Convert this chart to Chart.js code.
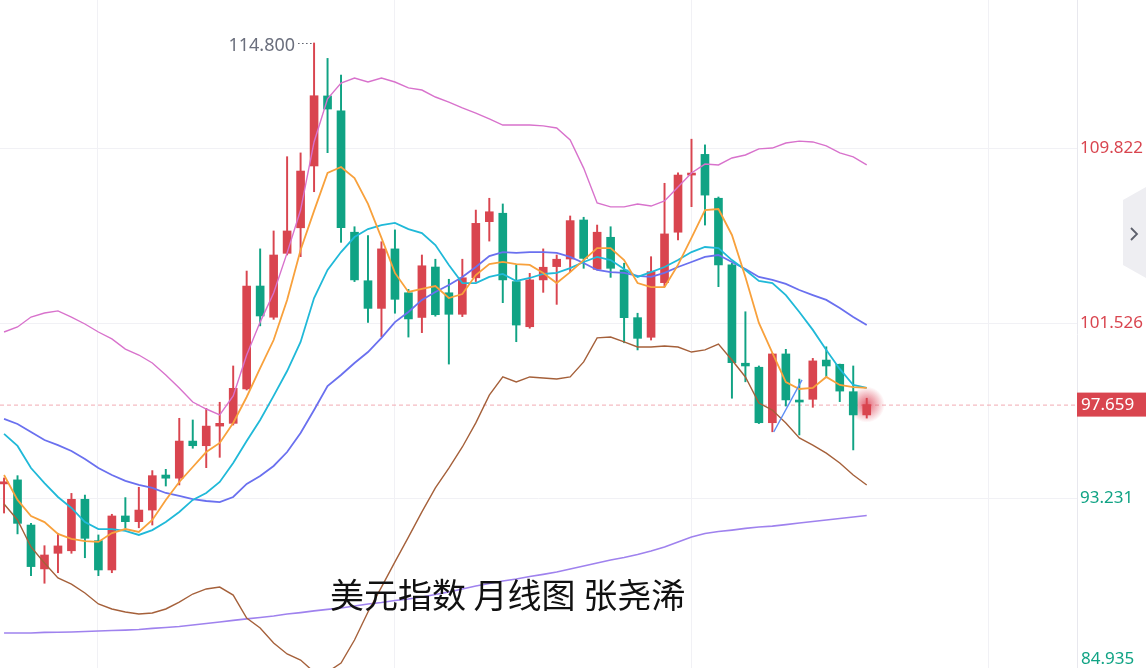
<!DOCTYPE html>
<html>
<head>
<meta charset="utf-8">
<script src="https://cdn.jsdelivr.net/npm/chart.js@4.4.1/dist/chart.umd.min.js"></script>
<style>
html, body { margin: 0; padding: 0; background: #fff; }
#wrap { position: relative; width: 1146px; height: 668px; overflow: hidden; }
#title { position: absolute; left: 330px; top: 577px; font-size: 34px; line-height: 34px;
  font-family: "Noto Sans CJK SC", sans-serif; color: #111; white-space: nowrap; }
</style>
</head>
<body>
<div id="wrap">
  <canvas id="myChart"></canvas>
  <div id="title">美元指数 月线图 张尧浠</div>
</div>
<script>
// monthly candles, index 0..64
const opens = [93.90, 94.09, 91.95, 89.87, 90.61, 90.73, 93.17, 91.21, 89.82, 92.38,
  92.11, 92.66, 94.32, 94.17, 95.93, 95.71, 96.64, 96.77, 98.40, 103.28,
  101.80, 104.83, 106.04, 108.97, 112.29, 111.58, 105.83, 103.53, 102.22, 105.04,
  102.96, 101.79, 104.18, 102.96, 101.94, 103.67, 106.33, 106.73, 103.49, 101.35,
  103.57, 104.20, 104.56, 106.41, 104.07, 105.59, 104.04, 101.78, 100.85, 103.44,
  105.83, 108.54, 109.52, 107.44, 104.28, 99.62, 99.43, 96.80, 100.06, 97.84,
  97.91, 99.77, 99.57, 98.27, 97.17];
const closes = [94.00, 92.03, 89.98, 90.53, 90.96, 93.17, 91.32, 89.82, 92.38, 92.11,
  92.66, 94.29, 94.17, 95.93, 95.71, 96.64, 96.77, 98.43, 103.28, 101.86,
  104.75, 105.89, 108.73, 112.30, 111.67, 106.04, 103.57, 102.22, 105.04, 102.65,
  101.72, 104.24, 101.92, 101.94, 103.67, 106.25, 106.80, 103.57, 101.43, 103.57,
  104.17, 104.55, 106.38, 104.59, 105.83, 104.12, 101.78, 100.80, 103.96, 105.75,
  108.54, 108.62, 107.59, 104.28, 99.65, 99.49, 96.80, 100.06, 97.88, 97.78,
  99.73, 99.49, 98.30, 97.17, 97.659];
const highs = [94.18, 94.29, 92.03, 90.97, 91.56, 93.45, 93.37, 91.48, 92.46, 93.25,
  93.74, 94.53, 94.59, 97.01, 96.93, 97.48, 97.77, 99.49, 103.99, 105.04,
  105.89, 109.41, 109.59, 114.80, 114.07, 113.28, 106.09, 105.67, 105.38, 105.94,
  103.12, 104.75, 104.55, 103.60, 104.55, 106.88, 107.44, 107.17, 104.28, 103.88,
  105.04, 104.75, 106.60, 106.54, 106.17, 106.09, 104.36, 101.99, 104.67, 108.15,
  108.65, 110.24, 109.97, 107.50, 104.36, 102.06, 99.49, 100.09, 100.28, 98.87,
  99.85, 100.40, 99.58, 99.49, 97.96];
const lows = [92.52, 91.53, 89.55, 89.19, 89.69, 90.61, 90.40, 89.55, 89.69, 91.80,
  91.82, 91.95, 93.80, 93.85, 95.59, 94.67, 95.16, 96.69, 98.35, 101.39,
  101.70, 104.75, 104.67, 107.75, 109.60, 105.35, 103.49, 101.56, 100.88, 101.99,
  100.86, 101.07, 101.85, 99.58, 101.83, 103.49, 105.41, 102.49, 100.64, 101.28,
  102.98, 102.41, 103.96, 104.12, 104.04, 103.69, 100.59, 100.25, 100.72, 103.25,
  105.46, 107.04, 106.17, 103.25, 97.96, 98.74, 96.76, 96.37, 97.59, 96.22,
  97.53, 98.98, 97.80, 95.51, 97.02];

const ma5 = [94.32, 93.14, 92.38, 92.09, 91.53, 91.29, 91.19, 91.15, 91.57, 91.76,
  91.62, 92.19, 93.14, 93.99, 94.70, 95.41, 95.84, 96.79, 98.02, 99.39,
  100.72, 102.62, 104.99, 106.84, 108.64, 108.92, 108.40, 107.17, 105.56, 103.90,
  103.00, 103.14, 103.28, 102.71, 102.90, 103.80, 104.32, 104.42, 104.32, 104.28,
  103.90, 103.42, 103.94, 104.51, 105.08, 105.08, 104.51, 103.42, 103.23, 103.23,
  104.28, 105.56, 106.88, 106.93, 105.70, 103.71, 101.53, 100.11, 98.73, 98.40,
  98.45, 98.97, 98.59, 98.49, 98.45];
const ma10 = [96.27, 95.70, 94.65, 93.94, 93.28, 92.76, 92.09, 91.76, 91.76, 91.67,
  91.48, 91.71, 92.09, 92.57, 93.14, 93.47, 93.99, 94.89, 95.93, 96.93,
  98.07, 99.25, 100.63, 102.71, 104.04, 104.89, 105.60, 105.98, 106.17, 106.27,
  105.98, 105.79, 105.22, 104.28, 103.42, 103.42, 103.71, 103.85, 103.52, 103.66,
  103.85, 103.90, 104.13, 104.42, 104.66, 104.51, 104.09, 103.71, 103.94, 104.18,
  104.51, 104.89, 105.13, 105.08, 104.51, 104.04, 103.52, 103.42, 102.85, 102.05,
  101.20, 100.25, 99.35, 98.59, 98.45];
const ma20 = [96.98, 96.74, 96.36, 95.98, 95.74, 95.46, 95.08, 94.65, 94.32, 94.04,
  93.85, 93.71, 93.47, 93.33, 93.18, 93.09, 93.04, 93.28, 93.90, 94.27,
  94.75, 95.41, 96.31, 97.40, 98.54, 99.06, 99.63, 100.15, 100.82, 101.57,
  102.05, 102.62, 103.00, 103.33, 103.71, 104.18, 104.70, 104.89, 104.85, 104.89,
  104.89, 104.85, 104.66, 104.37, 104.04, 103.94, 103.90, 103.76, 103.71, 103.90,
  104.18, 104.42, 104.66, 104.75, 104.42, 104.09, 103.71, 103.57, 103.38, 103.09,
  102.85, 102.62, 102.24, 101.81, 101.43];
const bollUpper = [101.10, 101.34, 101.81, 102.00, 102.10, 101.81, 101.48, 101.10, 100.77, 100.29,
  100.01, 99.63, 99.06, 98.45, 97.78, 97.45, 97.17, 98.07, 100.01, 101.57,
  102.95, 104.85, 106.88, 110.11, 112.15, 112.90, 113.14, 112.95, 113.14, 112.95,
  112.67, 112.57, 112.24, 112.00, 111.72, 111.48, 111.20, 110.91, 110.91, 110.91,
  110.87, 110.77, 110.20, 108.87, 107.22, 107.03, 107.03, 107.17, 107.07, 107.31,
  107.97, 108.64, 109.06, 109.02, 109.35, 109.49, 109.78, 109.82, 110.06, 110.15,
  110.11, 109.92, 109.59, 109.40, 109.02];
const bollLower = [92.95, 92.19, 90.91, 90.15, 89.44, 89.15, 88.73, 88.21, 87.97, 87.83,
  87.73, 87.78, 87.97, 88.30, 88.68, 88.92, 89.01, 88.63, 87.54, 87.07,
  86.36, 85.84, 85.55, 84.98, 84.98, 85.41, 86.50, 87.83, 89.01, 90.20,
  91.38, 92.57, 93.71, 94.65, 95.65, 96.79, 98.11, 98.97, 98.73, 98.97,
  98.92, 98.87, 98.97, 99.68, 100.82, 100.86, 100.63, 100.39, 100.39, 100.44,
  100.39, 100.15, 100.25, 100.53, 99.77, 98.97, 97.73, 97.40, 96.79, 96.08,
  95.74, 95.36, 94.89, 94.32, 93.85];
const ma60 = [86.83, 86.83, 86.83, 86.86, 86.87, 86.88, 86.90, 86.93, 86.95, 86.97,
  87.00, 87.05, 87.09, 87.14, 87.21, 87.28, 87.35, 87.43, 87.50, 87.57,
  87.64, 87.73, 87.80, 87.88, 87.95, 88.02, 88.11, 88.21, 88.28, 88.37,
  88.44, 88.54, 88.66, 88.78, 88.92, 89.06, 89.18, 89.30, 89.39, 89.51,
  89.61, 89.72, 89.87, 90.01, 90.15, 90.29, 90.41, 90.55, 90.72, 90.91,
  91.15, 91.38, 91.55, 91.64, 91.71, 91.79, 91.86, 91.90, 91.97, 92.05,
  92.12, 92.19, 92.26, 92.33, 92.40];
// short hand-drawn trend segment [index, value]
const trendLine = [[57.1, 96.36], [59.2, 98.83]];

const yTickValues = [109.822, 101.526, 93.231];
const bottomTick = 84.935;
const xGridIdx = [6.9, 29, 51, 73];
const lastPrice = 97.659;
const highMark = { idx: 23, value: 114.8, label: "114.800" };

const RED = "#d9454f";
const GREEN = "#10a384";

const idx = opens.map((o, i) => i);
const toXY = arr => arr.map((v, i) => ({ x: i, y: v }));
const candleColors = opens.map((o, i) => closes[i] >= o ? RED : GREEN);

function lineSet(label, arr, color, width) {
  return {
    type: "line", label, data: toXY(arr), borderColor: color, borderWidth: width,
    pointRadius: 0, tension: 0, fill: false, order: 1
  };
}

const extras = {
  id: "extras",
  beforeDatasetsDraw(chart) {
    const { ctx, chartArea: a, scales: { x, y } } = chart;
    const py = y.getPixelForValue(lastPrice);
    ctx.save();
    ctx.strokeStyle = "#f2aab2";
    ctx.lineWidth = 1;
    ctx.setLineDash([4, 3]);
    ctx.beginPath();
    ctx.moveTo(a.left, py + 0.5);
    ctx.lineTo(a.right, py + 0.5);
    ctx.stroke();
    // glow on the last candle
    const gx = x.getPixelForValue(idx.length - 1);
    const g = ctx.createRadialGradient(gx, py, 0, gx, py, 18);
    g.addColorStop(0, "rgba(220,60,80,0.8)");
    g.addColorStop(0.5, "rgba(220,60,80,0.4)");
    g.addColorStop(1, "rgba(220,60,80,0)");
    ctx.fillStyle = g;
    ctx.beginPath();
    ctx.arc(gx, py, 18, 0, Math.PI * 2);
    ctx.fill();
    ctx.restore();
  },
  afterDraw(chart) {
    const { ctx, chartArea: a, scales: { x, y } } = chart;
    ctx.save();
    // high marker
    const hx = x.getPixelForValue(highMark.idx);
    const hy = y.getPixelForValue(highMark.value);
    ctx.strokeStyle = "#555a66";
    ctx.lineWidth = 1;
    ctx.setLineDash([1.5, 2.5]);
    ctx.beginPath();
    ctx.moveTo(hx - 16, hy + 0.5);
    ctx.lineTo(hx - 1, hy + 0.5);
    ctx.stroke();
    ctx.setLineDash([]);
    ctx.fillStyle = "#6b6f7d";
    ctx.font = "18px 'Noto Sans', sans-serif";
    ctx.textAlign = "right";
    ctx.textBaseline = "middle";
    ctx.fillText(highMark.label, hx - 19, hy + 3);

    // last price tag
    const py = y.getPixelForValue(lastPrice);
    ctx.fillStyle = RED;
    ctx.fillRect(a.right, py - 12, chart.width - a.right, 24);
    ctx.fillStyle = "#fff";
    ctx.textAlign = "left";
    ctx.font = "17px 'Noto Sans', sans-serif";
    ctx.fillText(lastPrice.toFixed(3), a.right + 4, py + 1);

    // bottom tick label (its grid line falls below the canvas)
    ctx.fillStyle = GREEN;
    ctx.fillText(bottomTick.toFixed(3), a.right + 4, chart.height - 9);

    // side tab
    ctx.fillStyle = "#eeeef2";
    ctx.beginPath();
    ctx.moveTo(1146, 187);
    ctx.lineTo(1123, 200);
    ctx.lineTo(1123, 265);
    ctx.lineTo(1146, 278);
    ctx.closePath();
    ctx.fill();
    ctx.strokeStyle = "#5d606c";
    ctx.lineWidth = 1.8;
    ctx.beginPath();
    ctx.moveTo(1131, 228);
    ctx.lineTo(1137, 234);
    ctx.lineTo(1131, 240);
    ctx.stroke();
    ctx.restore();
  }
};

const config = {
  data: {
    datasets: [
      lineSet("MA5", ma5, "#f8a13c", 1.8),
      lineSet("MA10", ma10, "#20b9d8", 1.8),
      lineSet("MA20", ma20, "#6a70ef", 1.8),
      lineSet("UP", bollUpper, "#d872cc", 1.4),
      lineSet("DN", bollLower, "#a5603a", 1.4),
      lineSet("MA60", ma60, "#9f82ee", 1.6),
      {
        type: "line", label: "trend", data: trendLine.map(p => ({ x: p[0], y: p[1] })),
        borderColor: "#5b8ef6", borderWidth: 1.4, pointRadius: 0, order: 0
      },
      {
        type: "bar", label: "wick", data: idx.map(i => ({ x: i, y: [lows[i], highs[i]] })),
        backgroundColor: candleColors, barThickness: 1.3, grouped: false, order: 3
      },
      {
        type: "bar", label: "body", data: idx.map(i => ({ x: i, y: [opens[i], closes[i]] })),
        backgroundColor: candleColors, barThickness: 8, grouped: false, minBarLength: 2, order: 2
      }
    ]
  },
  options: {
    responsive: true,
    maintainAspectRatio: false,
    animation: false,
    layout: { padding: 0 },
    plugins: { legend: { display: false }, tooltip: { enabled: false } },
    scales: {
      x: {
        type: "linear", min: -0.3, max: 79.6, offset: false,
        afterBuildTicks: s => { s.ticks = xGridIdx.map(v => ({ value: v })); },
        afterFit: s => { s.height = 0; s.paddingLeft = 0; s.paddingRight = 0; },
        ticks: { display: false },
        grid: { color: "#f1f1f5", drawTicks: false, offset: false },
        border: { display: false }
      },
      y: {
        type: "linear", position: "right", min: 85.173, max: 116.838,
        afterBuildTicks: s => { s.ticks = yTickValues.map(v => ({ value: v })); },
        afterFit: s => { s.width = 69; s.paddingTop = 0; s.paddingBottom = 0; },
        ticks: {
          padding: 3,
          font: { size: 17, family: "'Noto Sans', sans-serif" },
          color: c => c.tick && c.tick.value > lastPrice ? RED : GREEN,
          callback: v => Number(v).toFixed(3)
        },
        grid: { color: "#f1f1f5", drawTicks: false },
        border: { display: true, color: "#e8e8ee" }
      }
    }
  },
  plugins: [extras]
};

const myChartElement = document.getElementById("myChart");
const myChart = new Chart(myChartElement, config);
</script>
</body>
</html>
